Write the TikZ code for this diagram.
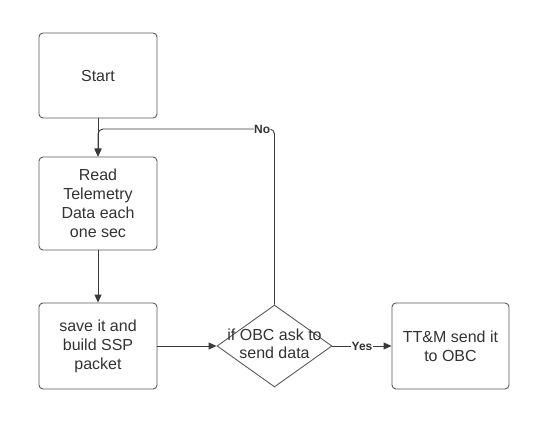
\documentclass[tikz,border=0pt]{standalone}
\usepackage{fontspec}
\setmainfont{Liberation Sans}
\usetikzlibrary{shapes.geometric,arrows.meta}
\definecolor{boxline}{HTML}{5A5A5A}
\definecolor{txt}{HTML}{333333}
\definecolor{conline}{HTML}{3A3A3A}
\begin{document}
\begin{tikzpicture}[x=1pt,y=-1pt,
  stepbox/.style={draw=boxline, line width=0.9pt, rounded corners=4pt, align=center,
    text=txt, font=\fontsize{16}{19}\selectfont, inner sep=0pt},
  conn/.style={draw=conline, line width=0.9pt, -{Triangle[length=8pt,width=7pt]}},
  lbl/.style={font=\bfseries\fontsize{12}{14}\selectfont, text=txt, fill=white, inner sep=0.5pt}]
\useasboundingbox (0,0) rectangle (549,422);
\fill[white] (0,0) rectangle (549,422);
\node[stepbox, minimum width=118pt, minimum height=85pt] (start) at (98,75.5) {Start};
\node[stepbox, minimum width=118pt, minimum height=93pt] (read) at (98,203.5) {Read\\Telemetry\\Data each\\one sec};
\node[stepbox, minimum width=118pt, minimum height=86pt] (save) at (98,346) {save it and\\build SSP\\packet};
\node[diamond, draw=boxline, line width=0.9pt, minimum width=115pt, minimum height=82pt, inner sep=0pt] (dec) at (274.5,346) {};
\node[align=center, text=txt, font=\fontsize{16}{18}\selectfont, inner sep=0pt] (dectext) at (274.5,344) {if OBC ask to\\send data};
\node[stepbox, minimum width=117pt, minimum height=86pt] (out) at (450.5,346) {TT\&M send it\\to OBC};
\coordinate (loopc) at (98,129);
\draw[conn] (start.south) -- (read.north);
\draw[conn] (read.south) -- (save.north);
\draw[conn] (save.east) -- (dec.west);
\draw[conn] (dec.east) -- node[lbl] (yes) {Yes} (out.west);
\draw[conn, rounded corners=5pt] (dec.north) |- node[lbl, pos=0.535] (no) {No} (loopc) -- (read.north);
\end{tikzpicture}
\end{document}
